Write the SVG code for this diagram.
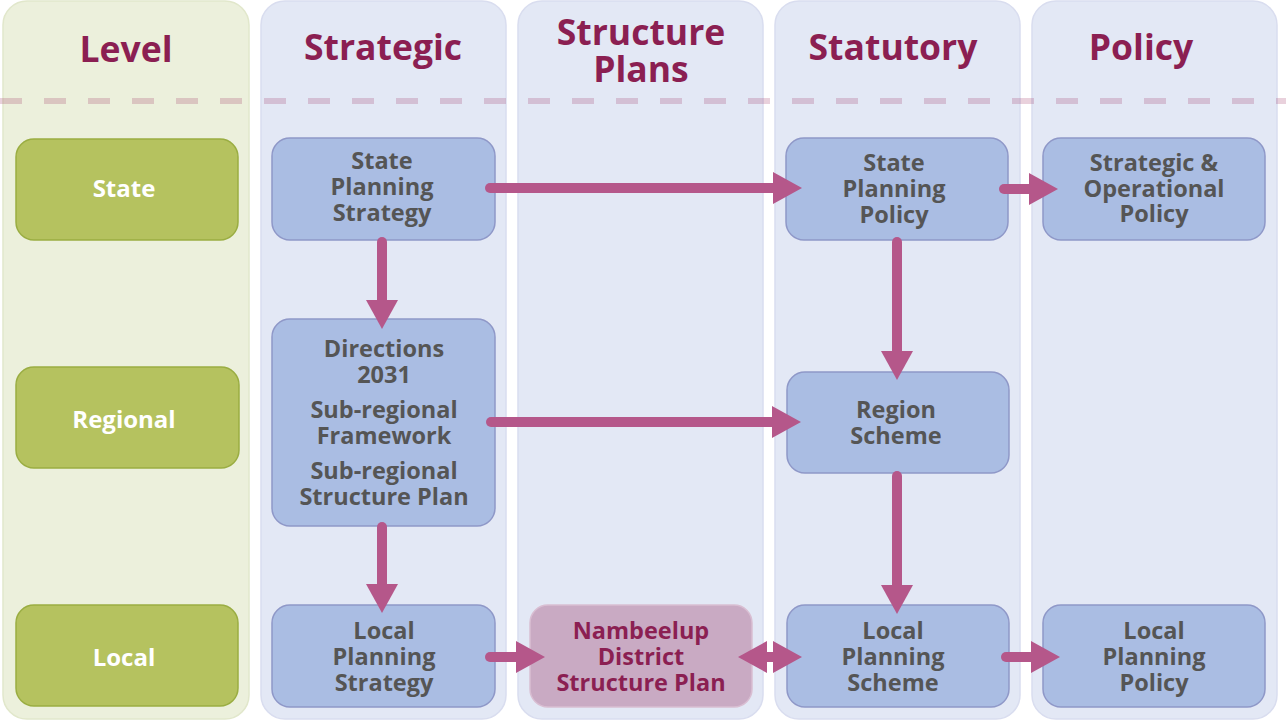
<svg xmlns="http://www.w3.org/2000/svg" width="1286" height="722" viewBox="0 0 1286 722">
<defs>
<style>
.col{fill:#e3e8f5;stroke:#d9ddef;stroke-width:1.5}
.lvlcol{fill:#ecf0dc;stroke:#e1e7cb;stroke-width:1.5}
.title{font-family:"Open Sans","Noto Sans",sans-serif;font-weight:bold;font-size:35.5px;fill:#8b1f52;text-anchor:middle}
.lvl rect{fill:#b5c25f;stroke:#9aad42;stroke-width:1.5}
.lvl text{font-family:"Open Sans","Noto Sans",sans-serif;font-weight:bold;font-size:24px;fill:#ffffff;text-anchor:middle}
.nd rect{fill:#aabde3;stroke:#8f98c8;stroke-width:1.5}
.nd text{font-family:"Open Sans","Noto Sans",sans-serif;font-weight:bold;font-size:23.5px;fill:#555555;text-anchor:middle}
.sp rect{fill:#c9aac3;stroke:#d9bed2;stroke-width:1.5}
.sp text{font-family:"Open Sans","Noto Sans",sans-serif;font-weight:bold;font-size:23.5px;fill:#8b1f52;text-anchor:middle}
.arr{stroke:#b5578a;stroke-width:10;fill:none;stroke-linecap:round}
.arr2{stroke:#b5578a;stroke-width:10;fill:none;stroke-linecap:butt}
</style>
<marker id="ah" markerUnits="userSpaceOnUse" markerWidth="30" markerHeight="32" refX="1" refY="16" orient="auto" viewBox="0 0 30 32">
<path d="M0,0 L29,16 L0,32 Z" fill="#b5578a"/>
</marker>
<marker id="ahs" markerUnits="userSpaceOnUse" markerWidth="30" markerHeight="32" refX="1" refY="16" orient="auto-start-reverse" viewBox="0 0 30 32">
<path d="M0,0 L29,16 L0,32 Z" fill="#b5578a"/>
</marker>
</defs>
<rect width="1286" height="722" fill="#ffffff"/>
<g id="columns">
<rect class="lvlcol" x="3" y="1" width="246" height="718" rx="24"/>
<rect class="col" x="261" y="1" width="245" height="718" rx="24"/>
<rect class="col" x="518" y="1" width="245" height="718" rx="24"/>
<rect class="col" x="775" y="1" width="245" height="718" rx="24"/>
<rect class="col" x="1032" y="1" width="245" height="718" rx="24"/>
</g>
<line x1="0" y1="101" x2="1286" y2="101" stroke="#9b2d5f" stroke-opacity="0.22" stroke-width="6" stroke-dasharray="22 22"/>
<g id="titles">
<text class="title" x="126" y="62">Level</text>
<text class="title" x="383" y="60">Strategic</text>
<text class="title" x="641" y="45">Structure</text>
<text class="title" x="641" y="82">Plans</text>
<text class="title" x="893" y="60">Statutory</text>
<text class="title" x="1141" y="60">Policy</text>
</g>
<g id="level-state" class="lvl"><rect x="16" y="139" width="222" height="101" rx="18"/><text x="124" y="197">State</text></g>
<g id="level-regional" class="lvl"><rect x="16" y="367" width="223" height="101" rx="18"/><text x="124" y="428">Regional</text></g>
<g id="level-local" class="lvl"><rect x="16" y="605" width="222" height="101" rx="18"/><text x="124" y="666">Local</text></g>

<g id="state-planning-strategy" class="nd"><rect x="272" y="138" width="223" height="102" rx="18"/>
<text x="382" y="169">State</text><text x="382" y="195">Planning</text><text x="382" y="221">Strategy</text></g>
<g id="directions" class="nd"><rect x="272" y="319" width="223" height="207" rx="18"/>
<text x="384" y="357">Directions</text><text x="384" y="383">2031</text>
<text x="384" y="418">Sub-regional</text><text x="384" y="444">Framework</text>
<text x="384" y="479">Sub-regional</text><text x="384" y="505">Structure Plan</text></g>
<g id="local-planning-strategy" class="nd"><rect x="272" y="605" width="223" height="102" rx="18"/>
<text x="384" y="639">Local</text><text x="384" y="665">Planning</text><text x="384" y="691">Strategy</text></g>

<g id="nambeelup" class="sp"><rect x="530" y="605" width="222" height="102" rx="18"/>
<text x="641" y="639">Nambeelup</text><text x="641" y="665">District</text><text x="641" y="691">Structure Plan</text></g>

<g id="state-planning-policy" class="nd"><rect x="786" y="138" width="222" height="102" rx="18"/>
<text x="894" y="171">State</text><text x="894" y="197">Planning</text><text x="894" y="223">Policy</text></g>
<g id="region-scheme" class="nd"><rect x="787" y="372" width="222" height="101" rx="18"/>
<text x="896" y="418">Region</text><text x="896" y="444">Scheme</text></g>
<g id="local-planning-scheme" class="nd"><rect x="787" y="605" width="222" height="102" rx="18"/>
<text x="893" y="639">Local</text><text x="893" y="665">Planning</text><text x="893" y="691">Scheme</text></g>

<g id="strategic-operational-policy" class="nd"><rect x="1043" y="138" width="222" height="102" rx="18"/>
<text x="1154" y="171">Strategic &amp;</text><text x="1154" y="197">Operational</text><text x="1154" y="222">Policy</text></g>
<g id="local-planning-policy" class="nd"><rect x="1043" y="605" width="222" height="102" rx="18"/>
<text x="1154" y="639">Local</text><text x="1154" y="665">Planning</text><text x="1154" y="691">Policy</text></g>

<g id="connectors">
<line class="arr" x1="490" y1="188" x2="774" y2="188" marker-end="url(#ah)"/>
<line class="arr" x1="1004" y1="189" x2="1030" y2="189" marker-end="url(#ah)"/>
<line class="arr" x1="382" y1="242" x2="382" y2="301" marker-end="url(#ah)"/>
<line class="arr" x1="382" y1="527" x2="382" y2="585" marker-end="url(#ah)"/>
<line class="arr" x1="491" y1="422" x2="773" y2="422" marker-end="url(#ah)"/>
<line class="arr" x1="897" y1="242" x2="897" y2="352" marker-end="url(#ah)"/>
<line class="arr" x1="897" y1="476" x2="897" y2="586" marker-end="url(#ah)"/>
<line class="arr" x1="490" y1="657" x2="517" y2="657" marker-end="url(#ah)"/>
<line class="arr2" x1="766" y1="657" x2="774" y2="657" marker-start="url(#ahs)" marker-end="url(#ahs)"/>
<line class="arr" x1="1006" y1="657" x2="1032" y2="657" marker-end="url(#ah)"/>
</g>
</svg>
